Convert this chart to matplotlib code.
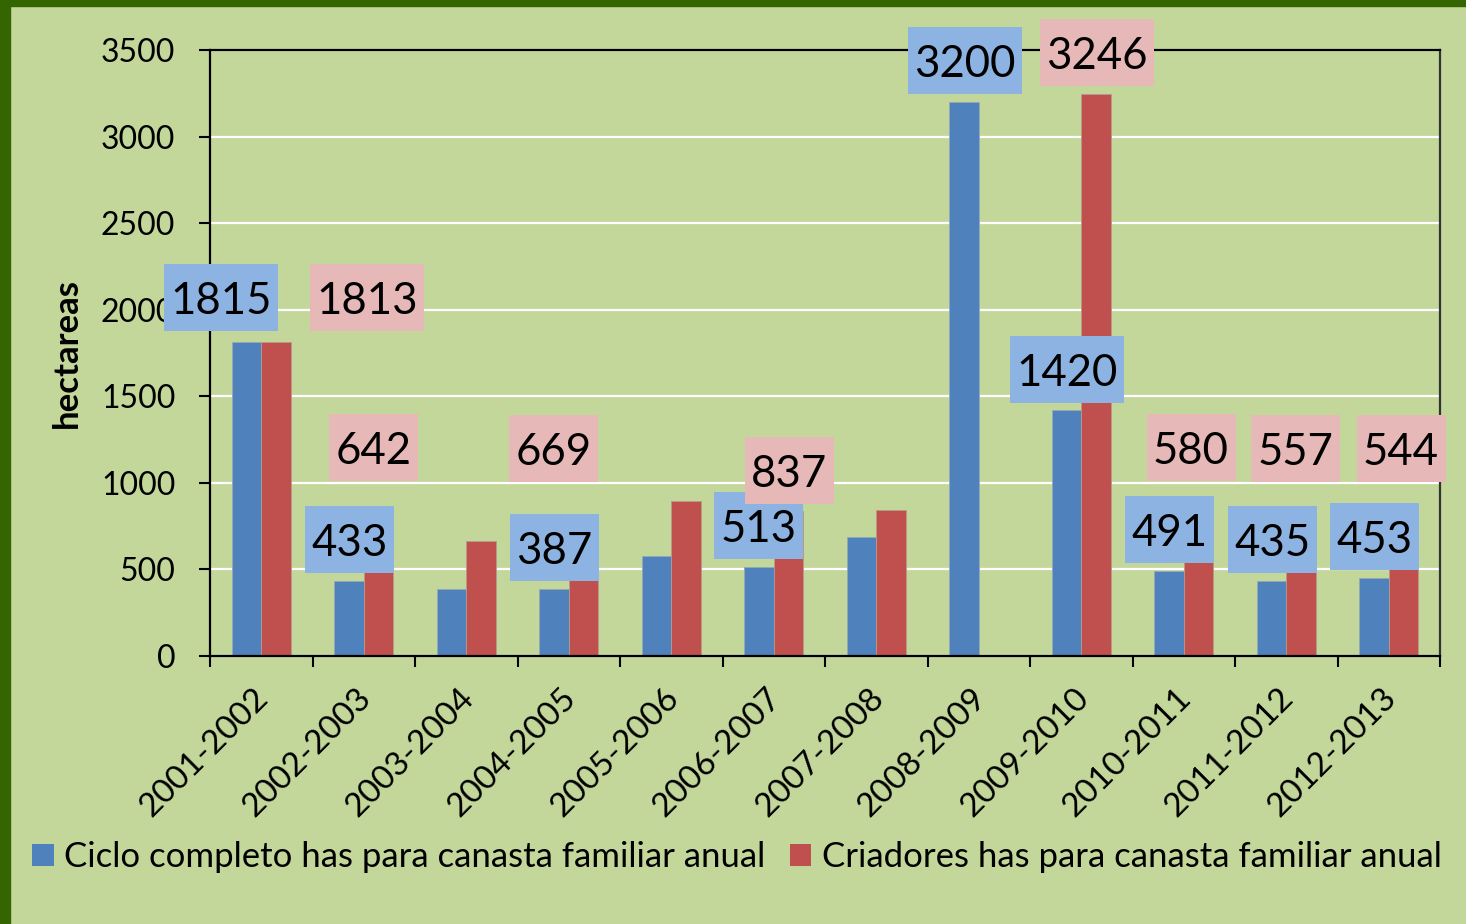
import matplotlib
matplotlib.use("Agg")
import matplotlib.pyplot as plt
from matplotlib.patches import Rectangle
import matplotlib.transforms as mtransforms

# ---- data ----
categories = ["2001-2002", "2002-2003", "2003-2004", "2004-2005", "2005-2006", "2006-2007",
              "2007-2008", "2008-2009", "2009-2010", "2010-2011", "2011-2012", "2012-2013"]
ciclo = [1815, 433, 385, 387, 577, 513, 687, 3200, 1420, 491, 435, 453]
criadores = [1813, 642, 667, 669, 897, 837, 841, 0, 3246, 580, 557, 544]
series_names = ["Ciclo completo has para canasta familiar anual",
                "Criadores has para canasta familiar anual"]
ylabel = "hectareas"
yticks = [0, 500, 1000, 1500, 2000, 2500, 3000, 3500]

# data labels: (series, category index) and their manually placed anchors (data coords)
label_items = [(0, 0), (1, 0), (0, 1), (1, 1), (0, 3), (1, 3), (0, 5), (1, 5),
               (0, 7), (1, 8), (0, 8), (0, 9), (1, 9), (0, 10), (1, 10), (0, 11), (1, 11)]
label_pos = [(-0.393, 2068), (1.032, 2068), (0.861, 670), (1.095, 1207), (2.861, 627),
             (2.856, 1201), (4.856, 751), (5.149, 1074), (6.866, 3437), (8.154, 3483),
             (7.861, 1652), (8.861, 731), (9.071, 1207), (9.866, 673), (10.095, 1196),
             (10.861, 690), (11.12, 1201)]

# ---- style ----
BG = "#C4D79B"
BORDER = "#336600"
BLUE = "#4F81BD"
RED = "#C0504D"
BLUE_BOX = "#8DB3E2"
RED_BOX = "#E6B9B8"
FONT = "Lato"

W, H = 1466, 924
fig = plt.figure(figsize=(W / 100, H / 100), dpi=100, facecolor=BG)
ax = fig.add_axes([210 / W, 1 - 656 / H, 1230 / W, 606 / H])
ax.set_facecolor(BG)

# border (left and top)
fig.patches.append(Rectangle((0, 0), 10 / W, 1, transform=fig.transFigure, color=BORDER, zorder=0))
fig.patches.append(Rectangle((0, 1 - 6 / H), 1, 6 / H, transform=fig.transFigure, color=BORDER, zorder=0))

n = len(categories)
bw = 1 / 3.5
xs = list(range(n))
ax.bar([x - bw / 2 for x in xs], ciclo, width=bw, color=BLUE, edgecolor="#93A9B5",
       linewidth=0.6, label=series_names[0], zorder=2)
ax.bar([x + bw / 2 for x in xs], criadores, width=bw, color=RED, edgecolor="#B89A8A",
       linewidth=0.6, label=series_names[1], zorder=2)

ax.set_xlim(-0.5, n - 0.5)
ax.set_ylim(0, 3500)
ax.set_yticks(yticks)
ax.set_yticklabels([str(v) for v in yticks], fontsize=23, family=FONT)
ax.yaxis.grid(True, color="white", linewidth=1.6, zorder=0)
ax.set_axisbelow(True)

ax.set_xticks(xs)
ax.set_xticklabels(categories, fontsize=24, family=FONT, rotation=45,
                   ha="right", va="top", rotation_mode="anchor")
ax.set_xticks([x - 0.5 for x in range(n + 1)], minor=True)
ax.tick_params(axis="x", which="major", length=0, pad=19)
ax.tick_params(axis="x", which="minor", length=8, width=1.5, direction="out")
ax.tick_params(axis="y", length=8, width=1.5, direction="out", pad=17)
offset = mtransforms.ScaledTranslation(-8 / 100, 0, fig.dpi_scale_trans)
for lab in ax.get_xticklabels():
    lab.set_transform(lab.get_transform() + offset)

for s in ax.spines.values():
    s.set_linewidth(1.6)
    s.set_color("black")
ax.spines["right"].set_color("#333333")

ax.set_ylabel(ylabel, fontsize=25, family=FONT, fontweight="bold")
ax.yaxis.set_label_coords((83 - 210) / 1230, 0.5)

# data labels with boxes
px_x = 1 / 102.5          # data units per pixel (x)
px_y = 3500 / 606         # data units per pixel (y)
for (s, i), (lx, ly) in zip(label_items, label_pos):
    val = ciclo[i] if s == 0 else criadores[i]
    txt = str(val)
    wpx = 25 * len(txt) + 14
    hpx = 67
    ax.add_patch(Rectangle((lx - wpx / 2 * px_x, ly - hpx / 2 * px_y), wpx * px_x, hpx * px_y,
                           facecolor=BLUE_BOX if s == 0 else RED_BOX, edgecolor="none",
                           zorder=4, clip_on=False))
    ax.text(lx, ly, txt, fontsize=31.5, family=FONT, ha="center", va="center_baseline",
            zorder=5, clip_on=False)

leg = fig.legend(loc="center", bbox_to_anchor=(737 / W, 1 - 857 / H), ncol=2, frameon=False,
                 prop={"family": FONT, "size": 25}, handlelength=0.62, handleheight=0.62,
                 handletextpad=0.3, columnspacing=0.7, borderaxespad=0)
for h in leg.legend_handles:
    h.set_edgecolor("none")

fig.savefig("out.png", dpi=100, facecolor=BG)
